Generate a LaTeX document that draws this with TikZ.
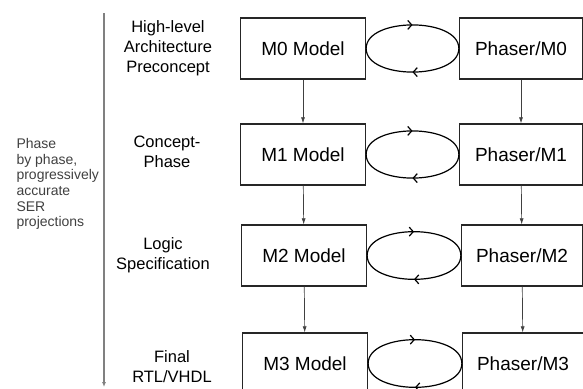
\documentclass[tikz,border=0pt]{standalone}
\usepackage{fontspec}
\setmainfont{Liberation Sans}
\usepackage{tikz}
\usetikzlibrary{arrows.meta,positioning,calc,decorations.markings}
\tikzstyle{model}=[rectangle, draw=black!85, line width=1.3pt, minimum width=125pt, minimum height=61pt, inner sep=0pt, font=\fontsize{19}{22}\selectfont]
\tikzstyle{phase}=[align=center, font=\fontsize{16.5}{20}\selectfont]

\begin{document}
\begin{tikzpicture}[x=1pt,y=1pt,
	cyc/.style={line width=1.2pt, postaction={decorate},
		decoration={markings, mark=at position 0.5 with {\arrow{Straight Barb[length=4pt,width=9pt]}}}},
	down/.style={black!75, line width=0.7pt, -{Latex[length=6pt,width=4pt]}}]
\useasboundingbox (0,0) rectangle (583,-388);
\clip (0,0) rectangle (583,-388);

\node (m0) at (303,-48.5)[model] {M0 Model};
\node (m1) at (303,-154.5)[model] {M1 Model};
\node (m2) at (304,-255.5)[model] {M2 Model};
\node (m3) at (305,-363.5)[model] {M3 Model};

\node (p0) at (521,-48.5)[model,minimum width=123pt] {Phaser/M0};
\node (p1) at (521,-154.5)[model,minimum width=123pt] {Phaser/M1};
\node (p2) at (522,-255.5)[model,minimum width=121pt] {Phaser/M2};
\node (p3) at (523,-363.5)[model,minimum width=121pt] {Phaser/M3};

\node (l0) at (168,-48)[phase] {High-level\\Architecture\\Preconcept};
\node (l1) at (167,-152)[phase] {Concept-\\Phase};
\node (l2) at (163,-255)[phase] {Logic\\Specification};
\node (l3) at (172,-367)[phase] {Final\\RTL/VHDL};

\node (note) at (13,-184)[anchor=west, align=left, text=black!75, font=\fontsize{14}{15.6}\selectfont] {Phase\\by phase,\\progressively\\accurate\\SER\\projections};

\coordinate (top) at (104,-13);
\coordinate (bot) at (104,-387);
\draw[black!50, line width=1.3pt, -{Latex[length=5pt,width=4pt]}] (top) -- (bot);

\draw[down] (m0) edge (m1);
\draw[down] (m1) edge (m2);
\draw[down] (m2) edge (m3);
\draw[down] (p0) edge (p1);
\draw[down] (p1) edge (p2);
\draw[down] (p2) edge (p3);

\draw[cyc] (m0.east) to [bend left=90,looseness=0.87] (p0.west);
\draw[cyc] (p0.west) to [bend left=90,looseness=0.87] (m0.east);
\draw[cyc] (m1.east) to [bend left=90,looseness=0.87] (p1.west);
\draw[cyc] (p1.west) to [bend left=90,looseness=0.87] (m1.east);
\draw[cyc] (m2.east) to [bend left=90,looseness=0.87] (p2.west);
\draw[cyc] (p2.west) to [bend left=90,looseness=0.87] (m2.east);
\draw[cyc] (m3.east) to [bend left=90,looseness=0.87] (p3.west);
\draw[cyc] (p3.west) to [bend left=90,looseness=0.87] (m3.east);
\end{tikzpicture}
\end{document}
